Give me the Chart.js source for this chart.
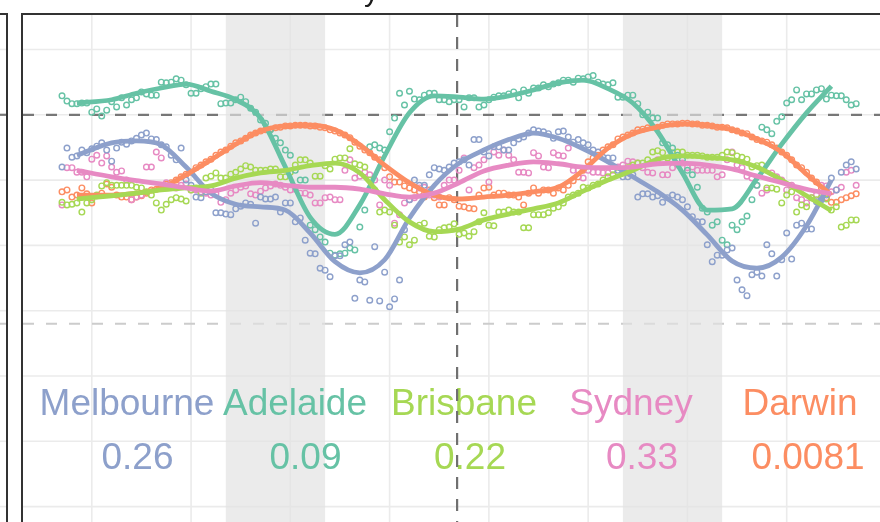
<!DOCTYPE html>
<html lang="en">
<head>
<meta charset="UTF-8">
<title>City series</title>
<script src="https://cdn.jsdelivr.net/npm/chart.js"></script>
<style>
  body { margin: 0; background: #ffffff; }
  #cityChart { display: block; }
</style>
</head>
<body>
<canvas id="cityChart" width="880" height="522"></canvas>
<script>
// observations on whole steps (index = x)
const melbourne = [32.0, 33.5, 34.6, 34.8, 35.7, 32.9, 35.8, 36.0, 36.9, 36.3, 35.4, 33.8, 34.9, 29.2, 27.3, 28.5, 25.0, 24.7, 26.0, 26.3, 27.4, 27.1, 25.1, 26.5, 24.2, 18.8, 16.5, 15.2, 18.4, 20.5, 14.7, 11.6, 11.5, 10.6, 14.7, 27.0, 29.2, 30.8, 31.7, 32.0, 32.8, 32.3, 36.2, 33.7, 35.1, 34.6, 36.3, 37.2, 37.5, 37.1, 37.4, 36.6, 36.2, 35.4, 34.3, 33.4, 31.5, 30.5, 27.4, 27.9, 27.6, 27.3, 27.4, 25.9, 23.6, 20.1, 18.5, 19.3, 14.7, 12.3, 15.9, 20.1, 15.3, 21.9, 23.1, 22.5, 26.7, 27.7, 28.5, 32.3, 31.7];
const adelaide = [42.9, 41.7, 41.8, 40.4, 39.8, 42.0, 42.6, 42.3, 43.5, 43.0, 45.0, 45.0, 45.3, 43.3, 44.0, 44.7, 41.7, 41.8, 42.7, 41.0, 39.2, 37.7, 35.7, 33.8, 30.0, 23.1, 21.3, 18.8, 18.7, 19.6, 22.8, 35.1, 34.9, 37.4, 43.3, 43.6, 42.3, 43.3, 42.3, 42.0, 42.3, 42.6, 41.2, 42.3, 42.9, 43.2, 42.6, 43.3, 44.1, 44.3, 44.9, 45.3, 45.6, 45.8, 45.0, 44.6, 42.7, 43.0, 41.7, 40.4, 39.5, 35.4, 33.8, 31.5, 28.9, 25.1, 23.6, 20.1, 22.4, 24.5, 29.2, 37.7, 39.0, 41.8, 43.8, 43.2, 43.8, 42.4, 42.9, 42.3, 41.7];
const brisbane = [26.6, 26.3, 25.1, 27.0, 29.1, 29.2, 29.2, 29.2, 28.8, 27.7, 25.4, 27.0, 27.1, 28.5, 28.0, 30.6, 30.3, 30.9, 31.7, 32.0, 31.5, 31.7, 30.5, 31.2, 33.1, 32.6, 30.6, 31.7, 33.4, 34.8, 32.3, 30.0, 25.1, 25.1, 20.5, 20.1, 23.1, 21.4, 22.4, 22.8, 21.7, 21.4, 23.6, 23.1, 25.1, 25.4, 25.1, 22.7, 24.7, 25.0, 25.9, 27.4, 28.0, 28.8, 29.4, 30.5, 31.2, 31.9, 32.6, 33.1, 34.5, 33.4, 34.3, 33.8, 33.8, 33.5, 33.5, 34.3, 33.7, 33.2, 32.2, 28.8, 28.6, 27.7, 25.1, 25.9, 27.0, 27.1, 25.9, 23.1, 23.9];
const sydney = [26.2, 31.9, 31.2, 33.2, 32.6, 32.0, 31.4, 27.0, 27.7, 32.0, 33.4, 29.1, 29.2, 28.5, 28.2, 27.7, 26.6, 28.0, 28.9, 27.9, 28.3, 29.1, 29.2, 28.5, 28.0, 27.7, 26.5, 27.4, 27.0, 33.1, 30.6, 30.8, 26.2, 29.2, 24.7, 27.0, 28.8, 27.7, 27.4, 30.0, 31.5, 28.5, 32.3, 29.7, 33.8, 33.8, 31.2, 31.1, 33.7, 31.9, 33.8, 34.9, 31.5, 31.5, 31.2, 31.1, 32.0, 32.9, 32.6, 31.2, 33.1, 30.8, 32.3, 31.9, 31.5, 31.5, 30.5, 33.1, 32.3, 30.6, 29.2, 28.5, 30.5, 28.5, 27.3, 26.5, 27.7, 29.1, 28.5, 31.2, 29.2];
const darwin = [28.2, 27.4, 28.8, 26.5, 28.0, 28.9, 27.4, 27.0, 27.6, 28.5, 29.1, 29.6, 30.5, 31.2, 32.3, 33.2, 34.3, 35.2, 36.0, 36.9, 37.5, 37.8, 38.1, 38.3, 38.4, 38.3, 38.1, 37.7, 37.2, 36.5, 35.2, 34.2, 33.1, 30.5, 29.7, 28.8, 28.2, 28.5, 26.2, 27.3, 26.0, 25.7, 27.7, 28.9, 28.0, 27.7, 27.4, 28.0, 28.0, 28.5, 28.8, 29.2, 30.5, 32.8, 33.8, 35.1, 36.3, 36.9, 37.7, 38.0, 38.1, 38.6, 38.6, 38.7, 38.6, 38.4, 38.1, 38.0, 37.5, 37.1, 36.2, 35.8, 34.9, 33.8, 32.3, 31.2, 29.7, 27.3, 26.6, 27.3, 27.9];

// observations on half steps (x = index + 0.5)
const melbourneMid = [34.9, 33.7, 34.2, 35.2, 34.6, 34.9, 35.5, 36.4, 37.2, 36.2, 35.1, 33.1, 30.0, 27.4, 28.2, 25.0, 24.8, 25.6, 26.5, 23.4, 27.1, 27.4, 26.5, 23.6, 20.8, 18.7, 16.2, 18.4, 20.1, 11.9, 14.4, 19.8, 15.9, 11.8, 22.4, 30.0, 29.2, 31.9, 31.5, 32.6, 33.1, 36.2, 34.3, 35.1, 34.6, 35.7, 36.6, 37.7, 37.4, 36.4, 37.5, 35.8, 35.7, 34.6, 33.5, 33.4, 30.5, 30.8, 27.9, 27.4, 26.6, 27.7, 27.0, 24.4, 23.6, 17.5, 18.5, 19.6, 13.2, 15.5, 15.3, 18.7, 17.8, 17.9, 23.4, 22.5, 27.0, 30.3, 31.2, 32.8];
const adelaideMid = [42.1, 41.7, 41.8, 40.9, 40.7, 41.2, 41.5, 42.6, 43.2, 43.0, 44.9, 45.5, 44.6, 43.3, 44.3, 44.7, 41.8, 42.3, 42.0, 40.4, 38.7, 36.4, 34.6, 31.5, 30.0, 22.4, 20.5, 18.5, 18.8, 19.3, 25.4, 35.4, 34.6, 39.5, 41.5, 42.4, 43.0, 43.3, 42.3, 42.3, 41.2, 42.6, 41.5, 42.7, 42.9, 43.5, 43.8, 44.1, 44.6, 44.7, 45.3, 45.0, 45.5, 46.0, 44.7, 44.9, 42.7, 43.0, 40.0, 39.5, 35.7, 34.9, 33.1, 30.8, 25.7, 23.1, 20.8, 23.1, 23.6, 27.0, 38.1, 37.1, 39.7, 42.3, 42.3, 43.2, 44.0, 43.0, 42.9, 41.5];
const brisbaneMid = [26.2, 26.5, 26.5, 27.7, 29.6, 29.2, 29.2, 28.9, 28.2, 26.5, 26.3, 27.3, 26.8, 28.8, 30.3, 31.1, 30.3, 31.2, 32.2, 31.5, 31.5, 31.7, 30.5, 32.3, 33.1, 30.6, 32.2, 33.2, 33.4, 32.5, 32.0, 28.5, 25.4, 23.1, 21.3, 20.8, 23.4, 21.3, 22.7, 23.3, 21.9, 22.1, 25.0, 23.0, 25.1, 25.1, 22.7, 24.7, 24.7, 25.7, 26.5, 27.7, 28.9, 29.2, 30.0, 30.8, 31.5, 32.3, 32.6, 34.3, 34.2, 34.2, 34.3, 33.8, 33.7, 33.5, 33.8, 34.2, 33.5, 32.0, 32.3, 28.8, 26.5, 28.2, 26.2, 27.3, 27.3, 25.4, 22.8, 23.9];
const sydneyMid = [31.9, 31.2, 30.5, 33.8, 33.7, 31.2, 30.0, 27.4, 32.0, 34.3, 29.6, 28.8, 29.4, 28.5, 28.0, 27.9, 27.0, 28.5, 29.1, 27.7, 28.8, 29.4, 28.9, 28.6, 28.0, 26.5, 27.3, 27.0, 31.5, 30.3, 31.2, 30.0, 30.0, 23.4, 26.5, 27.3, 28.9, 27.7, 29.2, 30.0, 33.4, 31.9, 33.1, 34.3, 34.6, 33.1, 31.2, 34.2, 32.0, 34.2, 33.7, 31.5, 30.3, 31.2, 31.1, 31.5, 32.3, 32.8, 31.9, 31.1, 30.8, 31.9, 32.6, 32.0, 31.5, 31.5, 30.8, 34.3, 31.9, 30.3, 28.0, 31.1, 30.0, 29.2, 27.0, 27.3, 29.2, 28.2, 28.9, 31.5];
const darwinMid = [28.5, 27.7, 27.9, 27.6, 29.4, 27.7, 27.4, 27.4, 28.0, 28.6, 29.4, 30.0, 30.9, 31.9, 32.8, 33.8, 34.6, 35.7, 36.4, 37.2, 37.7, 38.0, 38.3, 38.4, 38.4, 38.3, 38.0, 37.5, 36.9, 35.8, 34.6, 33.5, 31.9, 29.7, 29.1, 28.5, 27.4, 27.3, 26.2, 27.0, 25.9, 25.6, 28.8, 27.7, 28.0, 27.7, 26.2, 28.8, 28.5, 28.0, 28.5, 29.9, 31.5, 33.4, 34.6, 35.4, 36.6, 37.2, 37.8, 38.1, 38.4, 38.6, 38.7, 38.6, 38.4, 38.3, 38.1, 37.7, 37.2, 36.6, 36.0, 35.4, 34.3, 33.1, 31.9, 30.3, 28.8, 26.6, 27.0, 27.6];

// smoothed curves
const fitX = [1.5, 5, 7.5, 10, 12.5, 15, 17.5, 20, 22.5, 25, 27.5, 30, 32.5, 35, 37.5, 40, 42.5, 45, 47.5, 50, 52.5, 55, 57.5, 60, 62.5, 65, 67.5, 70, 72.5, 75, 77.5];
const melbourneFit = [33.8, 35.7, 36.0, 35.4, 32.0, 28.0, 26.3, 25.9, 25.4, 21.9, 17.5, 15.8, 17.8, 24.2, 29.2, 32.6, 34.6, 36.2, 37.2, 36.4, 34.8, 32.8, 30.5, 28.2, 25.4, 21.6, 17.6, 16.5, 18.2, 23.0, 30.0];
const adelaideFit = [41.8, 42.3, 43.3, 44.1, 44.7, 43.6, 42.3, 39.5, 32.0, 24.3, 21.7, 26.2, 33.7, 40.3, 42.9, 42.7, 42.4, 42.9, 43.8, 44.9, 45.3, 44.0, 41.8, 37.4, 31.1, 25.4, 25.6, 30.2, 35.5, 40.3, 44.4];
const brisbaneFit = [27.1, 27.6, 28.0, 28.5, 28.8, 29.1, 30.3, 31.1, 31.5, 32.2, 32.6, 31.1, 27.0, 23.6, 22.1, 22.5, 23.9, 24.8, 25.6, 26.5, 28.3, 30.0, 31.5, 33.2, 33.7, 33.5, 33.1, 32.0, 30.0, 27.6, 25.3];
const sydneyFit = [31.5, 30.5, 29.9, 29.4, 28.8, 28.3, 29.1, 29.6, 29.2, 28.9, 28.9, 28.6, 27.9, 27.4, 28.0, 29.6, 31.4, 32.3, 32.8, 32.5, 32.0, 31.9, 32.0, 32.5, 32.6, 32.3, 31.7, 30.6, 29.6, 28.6, 27.9];
const darwinFit = [27.7, 27.7, 28.0, 28.8, 30.8, 33.1, 35.5, 37.5, 38.3, 38.4, 37.7, 35.4, 32.3, 29.6, 27.7, 27.1, 27.4, 27.7, 28.2, 28.9, 31.5, 34.9, 37.1, 38.1, 38.6, 38.4, 37.7, 36.3, 34.3, 30.9, 27.7];

const cities = ['Melbourne', 'Adelaide', 'Brisbane', 'Sydney', 'Darwin'];
const cityValues = ['0.26', '0.09', '0.22', '0.33', '0.0081'];
const colors = ['#8da0cb', '#66c2a5', '#a6d854', '#e78ac3', '#fc8d62'];

const xGrid = [3, 13, 23, 33, 43, 53, 63, 73, 83];
const yGrid = [-20, -10, 0, 10, 20, 30, 40, 50];
const bands = [[16.5, 26.5], [56.5, 66.5]];
const refX = 39.8, refY = 40, refYLow = 8;

const obs = [melbourne, adelaide, brisbane, sydney, darwin];
const obsMid = [melbourneMid, adelaideMid, brisbaneMid, sydneyMid, darwinMid];
const fits = [melbourneFit, adelaideFit, brisbaneFit, sydneyFit, darwinFit];

const datasets = [];
// lines on top: lower order drawn last
fits.forEach((f, i) => {
    datasets.push({
        type: 'line',
        data: f.map((v, j) => ({ x: fitX[j], y: v })),
        borderColor: colors[i],
        borderWidth: 4.8,
        pointRadius: 0,
        cubicInterpolationMode: 'monotone',
        fill: false,
        order: [5, 4, 2, 1, 3][i]
    });
});
obs.forEach((arr, i) => {
    const pts = arr.map((v, j) => ({ x: j, y: v }))
        .concat(obsMid[i].map((v, j) => ({ x: j + 0.5, y: v })));
    datasets.push({
        type: 'scatter',
        data: pts,
        borderColor: colors[i],
        backgroundColor: 'rgba(0,0,0,0)',
        pointRadius: 2.8,
        pointBorderWidth: 1.4,
        order: 10
    });
});

const decor = {
    id: 'decor',
    beforeDatasetsDraw(chart) {
        const ctx = chart.ctx;
        const xs = chart.scales.x, ys = chart.scales.y;
        const a = chart.chartArea;
        ctx.save();
        ctx.fillStyle = '#ffffff';
        ctx.fillRect(0, 0, chart.width, chart.height);

        // neighbouring panel stub on the left
        ctx.strokeStyle = '#ebebeb';
        ctx.lineWidth = 1.6;
        yGrid.forEach(v => {
            const y = ys.getPixelForValue(v);
            ctx.beginPath(); ctx.moveTo(0, y); ctx.lineTo(6, y); ctx.stroke();
        });

        // grid
        xGrid.forEach(v => {
            const x = xs.getPixelForValue(v);
            ctx.beginPath(); ctx.moveTo(x, a.top); ctx.lineTo(x, a.bottom); ctx.stroke();
        });
        yGrid.forEach(v => {
            const y = ys.getPixelForValue(v);
            ctx.beginPath(); ctx.moveTo(a.left, y); ctx.lineTo(a.right, y); ctx.stroke();
        });

        // horizontal reference lines
        let y = ys.getPixelForValue(refY);
        ctx.setLineDash([11, 12]);
        ctx.strokeStyle = '#777777';
        ctx.lineWidth = 2.2;
        ctx.beginPath(); ctx.moveTo(0, y); ctx.lineTo(6, y); ctx.stroke();
        ctx.beginPath(); ctx.moveTo(a.left, y); ctx.lineTo(a.right, y); ctx.stroke();
        y = ys.getPixelForValue(refYLow);
        ctx.strokeStyle = '#cccccc';
        ctx.lineWidth = 2;
        ctx.beginPath(); ctx.moveTo(0, y); ctx.lineTo(6, y); ctx.stroke();
        ctx.beginPath(); ctx.moveTo(a.left, y); ctx.lineTo(a.right, y); ctx.stroke();
        ctx.setLineDash([]);

        // shaded bands
        ctx.fillStyle = 'rgba(226,226,226,0.68)';
        bands.forEach(b => {
            const x0 = xs.getPixelForValue(b[0]), x1 = xs.getPixelForValue(b[1]);
            ctx.fillRect(x0, a.top, x1 - x0, a.bottom - a.top);
        });

        // city labels and values
        ctx.font = '37px "Liberation Sans", Arial, sans-serif';
        ctx.textAlign = 'center';
        ctx.textBaseline = 'alphabetic';
        const labelX = [127, 295, 464, 631, 800];
        const valueX = [137.5, 305.5, 470, 642, 808];
        cities.forEach((c, i) => {
            ctx.fillStyle = colors[i];
            ctx.fillText(c, labelX[i], 415);
            ctx.fillText(cityValues[i], valueX[i], 469);
        });

        // vertical reference line
        const xr = xs.getPixelForValue(refX);
        ctx.setLineDash([12, 10]);
        ctx.strokeStyle = '#707070';
        ctx.lineWidth = 2.2;
        ctx.beginPath(); ctx.moveTo(xr, a.top); ctx.lineTo(xr, a.bottom); ctx.stroke();
        ctx.setLineDash([]);

        // panel borders
        ctx.strokeStyle = '#333333';
        ctx.lineWidth = 2;
        ctx.beginPath(); ctx.moveTo(22, chart.height); ctx.lineTo(22, 14); ctx.lineTo(chart.width, 14); ctx.stroke();
        ctx.beginPath(); ctx.moveTo(0, 14); ctx.lineTo(7, 14); ctx.lineTo(7, chart.height); ctx.stroke();

        // clipped title
        ctx.fillStyle = '#1a1a1a';
        ctx.font = '30px "Liberation Sans", Arial, sans-serif';
        ctx.textAlign = 'left';
        ctx.fillText('y', 364, 1);
        ctx.restore();
    }
};

new Chart(document.getElementById('cityChart'), {
    type: 'scatter',
    data: { datasets: datasets },
    options: {
        responsive: false,
        animation: false,
        layout: { autoPadding: false, padding: { left: 23, top: 15, right: 0, bottom: 0 } },
        plugins: { legend: { display: false }, tooltip: { enabled: false } },
        scales: {
            x: { type: 'linear', display: false, min: -3.93, max: 82.4 },
            y: { type: 'linear', display: false, min: -22.36, max: 55.28 }
        }
    },
    plugins: [decor]
});
</script>
</body>
</html>
